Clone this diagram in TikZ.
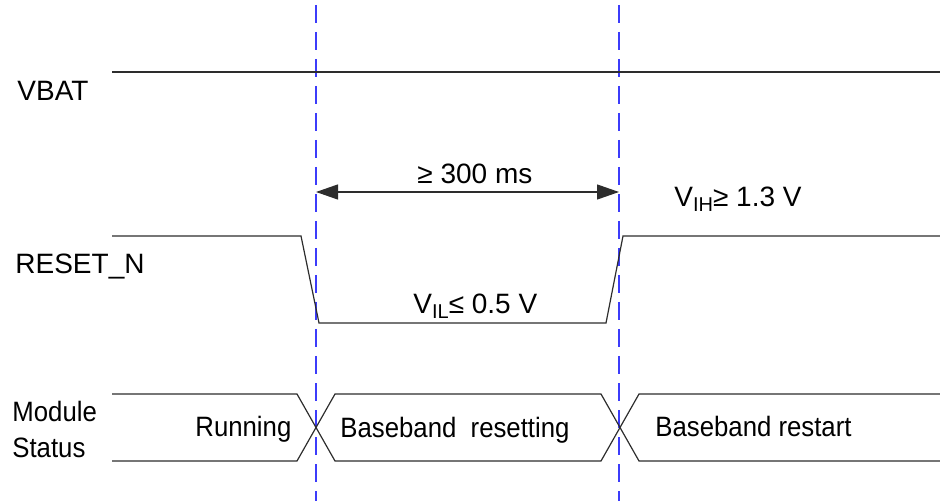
\documentclass[tikz,border=0pt]{standalone}
\usepackage{fontspec}
\setmainfont{Liberation Sans}
\newfontfamily\narrowfont[FakeStretch=0.92]{Liberation Sans}
\usetikzlibrary{arrows.meta}
\definecolor{sigline}{RGB}{45,45,45}
\definecolor{markblue}{RGB}{60,60,250}
\newcommand{\lowsub}[1]{\raisebox{-0.3ex}{\fontsize{10}{10}\selectfont #1}}

\begin{document}
\begin{tikzpicture}[x=0.5pt,y=-0.5pt,
  wave/.style={sigline,line width=0.6pt},
  marker/.style={markblue,line width=0.7pt,dash pattern=on 9pt off 4.5pt},
  lbl/.style={inner sep=0pt,anchor=base west,font=\fontsize{14}{17}\selectfont},
  state/.style={lbl,font=\fontsize{14}{17}\narrowfont}]
  \useasboundingbox (0,0) rectangle (940,501);
  % reset edges
  \coordinate (T1) at (316,5);
  \coordinate (B1) at (316,501);
  \coordinate (T2) at (619,5);
  \coordinate (B2) at (619,501);
  \draw[marker] (T1) -- (B1);
  \draw[marker] (T2) -- (B2);
  % VBAT
  \node[lbl] (vbat) at (17,101) {VBAT};
  \draw[wave] (112,72) -- (940,72);
  % RESET_N
  \node[lbl] (rst) at (15,274) {RESET\_N};
  \draw[wave] (112,236) -- (301,236) -- (319,323) -- (606,323) -- (623,236) -- (940,236);
  \coordinate (A1) at (316,192);
  \coordinate (A2) at (619,192);
  \draw[sigline,line width=0.6pt,{Triangle[length=11pt,width=7.5pt]}-{Triangle[length=11pt,width=7.5pt]}] (A1) -- (A2);
  \node[lbl] (tlow) at (417,184) {≥ 300 ms};
  \node[lbl] (vil) at (413,314) {V\lowsub{IL}≤ 0.5 V};
  \node[lbl] (vih) at (674,207) {V\lowsub{IH}≥ 1.3 V};
  % module status
  \node[state] (mod) at (12,421) {Module};
  \node[state] (stat) at (12,457) {Status};
  \draw[wave] (112,394) -- (297,394) -- (335,461) -- (601,461) -- (639,394) -- (940,394);
  \draw[wave] (112,461) -- (297,461) -- (335,394) -- (601,394) -- (639,461) -- (940,461);
  \node[state] (run) at (195,436) {Running};
  \node[state] (rsting) at (340,437) {Baseband~ resetting};
  \node[state] (rstart) at (655,436) {Baseband restart};
\end{tikzpicture}
\end{document}
